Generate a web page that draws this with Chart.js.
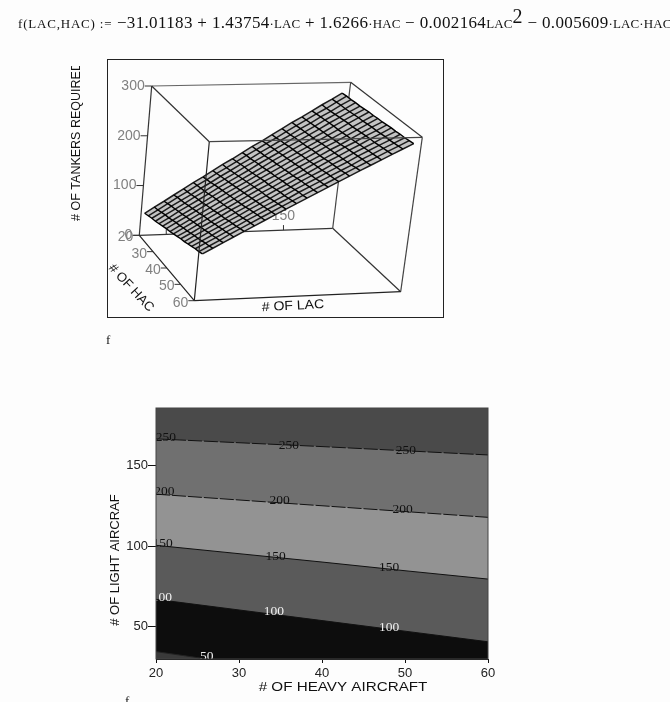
<!DOCTYPE html>
<html>
<head>
<meta charset="utf-8">
<title>Tanker requirement</title>
<script src="https://cdn.jsdelivr.net/npm/chart.js"></script>
<style>
  html, body { margin: 0; padding: 0; background: #fdfdfd; overflow: hidden; }
  body { position: relative; width: 670px; height: 702px; }
  canvas { position: absolute; left: 0; }
  #surface { top: 0; }
  #contour { top: 400px; }
  #formula {
    position: absolute; left: 18px; top: 4px; height: 40px; line-height: 38px; white-space: nowrap; width: 652px; overflow: hidden; z-index: 2;
    font-family: "Liberation Serif", serif; font-size: 17px; color: #111; letter-spacing: 0.35px;
  }
  #formula small { font-size: 13px; letter-spacing: 0.1px; }
  #formula small.lead { letter-spacing: 0.8px; }
  #formula sup { font-size: 20px; line-height: 0; vertical-align: baseline; position: relative; top: -5px; }
  .fname { position: absolute; font-family: "Liberation Serif", serif; font-size: 13px; color: #111; }
  #frame { position: absolute; left: 107px; top: 59px; width: 335px; height: 257px; border: 1px solid #222; }
</style>
</head>
<body>
<div id="formula"><small class="lead">f(LAC,HAC) :=</small> &minus;31.01183 + 1.43754<small>&middot;LAC</small> + 1.6266<small>&middot;HAC</small> &minus; 0.002164<small>LAC</small><sup>2</sup> &minus; 0.005609<small>&middot;LAC&middot;HAC</small></div>
<div id="frame"></div>
<canvas id="surface" width="670" height="340"></canvas>
<div class="fname" style="left:106px;top:332px">f</div>
<canvas id="contour" width="670" height="302"></canvas>
<div class="fname" style="left:125px;top:693px">f</div>
<script>
// surface plot values
let lacValues = [30, 37.8, 45.6, 53.4, 61.2, 69, 76.8, 84.6, 92.4, 100.2, 108, 115.8, 123.6, 131.4, 139.2, 147, 154.8, 162.6, 170.4, 178.2, 186];
let hacValues = [20, 22.5, 25, 27.5, 30, 32.5, 35, 37.5, 40, 42.5, 45, 47.5, 50, 52.5, 55, 57.5, 60];
let tankers = [
  [44, 56, 67, 79, 91, 103, 114, 126, 138, 149, 161, 173, 184, 196, 208, 220, 231, 243, 255, 266, 278],
  [47, 58, 70, 82, 93, 105, 116, 128, 139, 151, 163, 174, 186, 197, 209, 221, 232, 244, 255, 267, 279],
  [50, 61, 73, 84, 95, 107, 118, 130, 141, 153, 164, 176, 187, 199, 210, 222, 233, 245, 256, 268, 279],
  [52, 64, 75, 86, 98, 109, 121, 132, 143, 155, 166, 177, 189, 200, 212, 223, 234, 246, 257, 268, 280],
  [55, 66, 78, 89, 100, 111, 123, 134, 145, 156, 168, 179, 190, 202, 213, 224, 235, 247, 258, 269, 280],
  [58, 69, 80, 91, 102, 114, 125, 136, 147, 158, 169, 181, 192, 203, 214, 225, 236, 248, 259, 270, 281],
  [61, 72, 83, 94, 105, 116, 127, 138, 149, 160, 171, 182, 193, 204, 215, 226, 237, 248, 260, 271, 282],
  [63, 74, 85, 96, 107, 118, 129, 140, 151, 162, 173, 184, 195, 206, 217, 228, 238, 249, 260, 271, 282],
  [66, 77, 88, 99, 109, 120, 131, 142, 153, 164, 174, 185, 196, 207, 218, 229, 239, 250, 261, 272, 283],
  [69, 79, 90, 101, 112, 122, 133, 144, 155, 165, 176, 187, 198, 208, 219, 230, 240, 251, 262, 273, 283],
  [72, 82, 93, 103, 114, 125, 135, 146, 157, 167, 178, 188, 199, 210, 220, 231, 242, 252, 263, 273, 284],
  [74, 85, 95, 106, 116, 127, 137, 148, 158, 169, 179, 190, 200, 211, 222, 232, 243, 253, 264, 274, 285],
  [77, 87, 98, 108, 119, 129, 140, 150, 160, 171, 181, 192, 202, 212, 223, 233, 244, 254, 264, 275, 285],
  [80, 90, 100, 111, 121, 131, 142, 152, 162, 172, 183, 193, 203, 214, 224, 234, 245, 255, 265, 275, 286],
  [83, 93, 103, 113, 123, 134, 144, 154, 164, 174, 185, 195, 205, 215, 225, 235, 246, 256, 266, 276, 286],
  [85, 95, 105, 116, 126, 136, 146, 156, 166, 176, 186, 196, 206, 216, 227, 237, 247, 257, 267, 277, 287],
  [88, 98, 108, 118, 128, 138, 148, 158, 168, 178, 188, 198, 208, 218, 228, 238, 248, 258, 268, 278, 288]
];
let lacTicks = [50, 100, 150];
let hacTicks = [20, 30, 40, 50, 60];
let tankerTicks = [0, 100, 200, 300];

// contour plot values
let contourHac = [20, 30, 40, 50, 60];
let contour250 = [166.8, 164.4, 162, 159.4, 156.8];
let contour200 = [132.4, 128.8, 125.2, 121.6, 118];
let contour150 = [100.6, 95.4, 90.2, 84.8, 79.6];
let contour100 = [67, 60.4, 53.8, 47.2, 40.6];
let contour50Hac = [20, 26];
let contour50 = [34.5, 30];
let heavyTicks = [20, 30, 40, 50, 60];
let lightTicks = [50, 100, 150];
let contourLabelText = ['250', '250', '250', '200', '200', '200', '150', '150', '150', '100', '100', '100', '50'];
let contourLabelHac = [21.2, 36, 50.1, 21, 34.9, 49.7, 20.8, 34.4, 48.1, 20.7, 34.2, 48.1, 26.1];
let contourLabelLac = [167.4, 163, 159.5, 134, 128.3, 122.7, 101.6, 93.7, 86.6, 68.2, 59.5, 49.6, 31.4];

// view of the 3d box: screen position of its 8 corners, [lac][hac][z]
let viewCorners = [
  [[[139.3, 235.3], [151.7, 86]], [[194.3, 300.7], [209.3, 141.7]]],
  [[[332.7, 228.3], [350.7, 82.3]], [[400.7, 291.7], [422.3, 137.3]]]
];
let lacRange = [27, 192];
let hacRange = [20, 60];
let zRange = [0, 300];

function project(lac, hac, z) {
  let a = (lac - lacRange[0]) / (lacRange[1] - lacRange[0]);
  let b = (hac - hacRange[0]) / (hacRange[1] - hacRange[0]);
  let c = (z - zRange[0]) / (zRange[1] - zRange[0]);
  let p = { x: 0, y: 0 };
  for (let i = 0; i < 2; i++) {
    for (let j = 0; j < 2; j++) {
      for (let k = 0; k < 2; k++) {
        let w = (i ? a : 1 - a) * (j ? b : 1 - b) * (k ? c : 1 - c);
        p.x += w * viewCorners[i][j][k][0];
        p.y += w * viewCorners[i][j][k][1];
      }
    }
  }
  return p;
}

function boxEdge(from, to) {
  return [
    project(lacRange[from[0]], hacRange[from[1]], zRange[from[2]]),
    project(lacRange[to[0]], hacRange[to[1]], zRange[to[2]])
  ];
}

let layers = [];
function addLine(data, color, width, extra) {
  layers.push(Object.assign({
    data: data, showLine: true, pointRadius: 0, borderColor: color, borderWidth: width, fill: false
  }, extra || {}));
}

// back of the box goes first, surface on top of it, then the front edges
addLine(boxEdge([0, 0, 1], [1, 0, 1]), '#666', 1.2);
addLine(boxEdge([0, 0, 0], [0, 0, 1]), '#333', 1.2);
addLine(boxEdge([0, 0, 0], [1, 0, 0]), '#333', 1.2);
addLine(boxEdge([1, 0, 0], [1, 0, 1]), '#444', 1.2);
addLine(boxEdge([0, 0, 0], [0, 1, 0]), '#222', 1.2);
addLine(boxEdge([1, 0, 0], [1, 1, 0]), '#333', 1.2);

let outline = [];
let lastRow = hacValues.length - 1;
let lastCol = lacValues.length - 1;
lacValues.forEach((lac, c) => outline.push(project(lac, hacValues[0], tankers[0][c])));
hacValues.forEach((hac, r) => outline.push(project(lacValues[lastCol], hac, tankers[r][lastCol])));
lacValues.slice().reverse().forEach((lac, c) => outline.push(project(lac, hacValues[lastRow], tankers[lastRow][lastCol - c])));
hacValues.slice().reverse().forEach((hac, r) => outline.push(project(lacValues[0], hac, tankers[lastRow - r][0])));
addLine(outline, '#c4c4c4', 0, { fill: 'shape', backgroundColor: '#c4c4c4' });

hacValues.forEach((hac, r) => {
  addLine(lacValues.map((lac, c) => project(lac, hac, tankers[r][c])), '#1c1c1c', 1.5);
});
lacValues.forEach((lac, c) => {
  addLine(hacValues.map((hac, r) => project(lac, hac, tankers[r][c])), '#000', 1.4);
});

addLine(boxEdge([0, 1, 1], [1, 1, 1]), '#444', 1.2);
addLine(boxEdge([0, 0, 1], [0, 1, 1]), '#333', 1.2);
addLine(boxEdge([1, 0, 1], [1, 1, 1]), '#333', 1.2);
addLine(boxEdge([0, 1, 0], [0, 1, 1]), '#222', 1.2);
addLine(boxEdge([1, 1, 0], [1, 1, 1]), '#444', 1.2);
addLine(boxEdge([0, 1, 0], [1, 1, 0]), '#222', 1.2);
layers.forEach((l, i) => { l.order = layers.length - i; });

function rotatedText(ctx, text, x, y, angle, stretch) {
  ctx.save();
  ctx.translate(x, y);
  ctx.rotate(angle);
  ctx.scale(stretch || 1, 1);
  ctx.fillText(text, 0, 0);
  ctx.restore();
}

// tick marks and labels of the 3d box sit behind the surface
let boxTicks = {
  id: 'boxTicks',
  beforeDatasetsDraw(chart) {
    let ctx = chart.ctx;
    let sx = chart.scales.x;
    let sy = chart.scales.y;
    ctx.save();
    ctx.font = '14px "Liberation Sans"';
    ctx.fillStyle = '#808080';
    ctx.strokeStyle = '#333';
    ctx.lineWidth = 1;
    ctx.textBaseline = 'middle';

    function tick(p, dx, dy, text, lx, ly, align) {
      let px = sx.getPixelForValue(p.x);
      let py = sy.getPixelForValue(p.y);
      ctx.beginPath();
      ctx.moveTo(px, py);
      ctx.lineTo(px + dx, py + dy);
      ctx.stroke();
      ctx.textAlign = align;
      ctx.fillText(text, px + lx, py + ly);
    }
    tankerTicks.forEach(v => tick(project(lacRange[0], hacRange[0], v), -7, 0, String(v), -7, 0, 'right'));
    hacTicks.forEach(v => tick(project(lacRange[0], v, zRange[0]), -6, 0, String(v), -6, 2, 'right'));
    lacTicks.forEach(v => tick(project(v, hacRange[0], zRange[0]), 0, -5, String(v), 0, -14, 'center'));
    ctx.restore();
  },
  afterDatasetsDraw(chart) {
    let ctx = chart.ctx;
    ctx.save();
    ctx.font = '13px "Liberation Sans"';
    ctx.fillStyle = '#111';
    ctx.textAlign = 'center';
    ctx.textBaseline = 'middle';
    rotatedText(ctx, '# OF LAC', 293, 306, -0.05, 1.08);
    rotatedText(ctx, '# OF HAC', 131, 288, 0.82);
    ctx.beginPath();
    ctx.rect(60, 66, 40, 170);
    ctx.clip();
    ctx.font = '12.5px "Liberation Sans"';
    rotatedText(ctx, '# OF TANKERS REQUIRED', 77, 141.5, -Math.PI / 2);
    ctx.restore();
  }
};

new Chart(document.getElementById('surface'), {
  type: 'scatter',
  data: { datasets: layers },
  options: {
    responsive: false,
    animation: false,
    layout: { padding: 0 },
    plugins: { legend: { display: false }, tooltip: { enabled: false } },
    scales: {
      x: { display: false, min: 0, max: 670 },
      y: { display: false, min: 0, max: 340, reverse: true }
    }
  },
  plugins: [boxTicks]
});

function contourLine(hacs, lacs, lineColor, bandColor, dash) {
  return {
    data: hacs.map((h, i) => ({ x: h, y: lacs[i] })),
    showLine: true, pointRadius: 0, borderColor: lineColor, borderWidth: 1, borderDash: dash || [],
    fill: 'start', backgroundColor: bandColor
  };
}

// labels sit on the contour lines, clipped to the plot
let contourLabels = {
  id: 'contourLabels',
  afterDatasetsDraw(chart) {
    let ctx = chart.ctx;
    let area = chart.chartArea;
    ctx.save();
    ctx.beginPath();
    ctx.rect(area.left, area.top, area.right - area.left, area.bottom - area.top);
    ctx.clip();
    ctx.font = '13.5px "Liberation Serif"';
    ctx.textAlign = 'center';
    ctx.textBaseline = 'middle';
    contourLabelText.forEach((t, i) => {
      ctx.fillStyle = (t === '100' || t === '50') ? '#f0f0f0' : '#111';
      ctx.fillText(t, chart.scales.x.getPixelForValue(contourLabelHac[i]), chart.scales.y.getPixelForValue(contourLabelLac[i]));
    });
    ctx.restore();
    ctx.save();
    ctx.strokeStyle = '#444';
    ctx.lineWidth = 1;
    ctx.strokeRect(area.left, area.top, area.right - area.left, area.bottom - area.top);
    // axis titles are not centred on the plot in the picture
    ctx.font = '13px "Liberation Sans"';
    ctx.fillStyle = '#111';
    ctx.textAlign = 'center';
    ctx.textBaseline = 'middle';
    rotatedText(ctx, '# OF HEAVY AIRCRAFT', 343, 287.5, 0, 1.17);
    rotatedText(ctx, '# OF LIGHT AIRCRAF', 115, 160, -Math.PI / 2);
    ctx.restore();
  }
};

let tickFont = { family: 'Liberation Sans', size: 13 };

new Chart(document.getElementById('contour'), {
  type: 'scatter',
  data: {
    datasets: [
      contourLine(contour50Hac, contour50, '#222', '#3a3a3a'),
      contourLine(contourHac, contour100, '#111', '#0d0d0d'),
      contourLine(contourHac, contour150, '#111', '#5a5a5a'),
      contourLine(contourHac, contour200, '#111', '#939393', [14, 2]),
      contourLine(contourHac, contour250, '#111', '#707070', [14, 2]),
      contourLine([20, 60], [186, 186], '#4a4a4a', '#4a4a4a')
    ]
  },
  options: {
    responsive: false,
    animation: false,
    layout: { padding: { left: 104, right: 182, top: 8, bottom: 7 } },
    plugins: { legend: { display: false }, tooltip: { enabled: false } },
    scales: {
      x: {
        min: 20, max: 60,
        afterBuildTicks(axis) { axis.ticks = heavyTicks.map(v => ({ value: v })); },
        afterFit(axis) { axis.height = 36; },
        grid: { drawOnChartArea: false, color: '#111', tickLength: 4 },
        border: { color: '#111' },
        ticks: { color: '#222', font: tickFont, padding: 3, maxRotation: 0, autoSkip: false }
      },
      y: {
        min: 29.9, max: 186,
        afterBuildTicks(axis) { axis.ticks = lightTicks.map(v => ({ value: v })); },
        afterFit(axis) { axis.width = 52; },
        grid: { drawOnChartArea: false, color: '#111', tickLength: 8 },
        border: { color: '#111' },
        ticks: { color: '#222', font: tickFont, padding: 0, autoSkip: false }
      }
    }
  },
  plugins: [contourLabels]
});
</script>
</body>
</html>
